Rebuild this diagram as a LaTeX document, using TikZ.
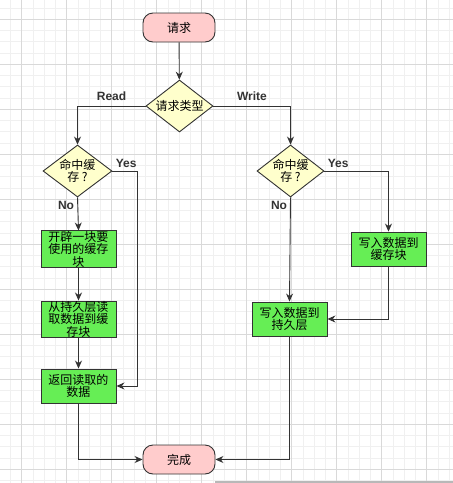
\documentclass[tikz,border=0pt]{standalone}
\usepackage{fontspec}
\setmainfont{Liberation Sans}
\newfontfamily\cjk{Noto Sans CJK SC}
\usepackage{xcolor}
\usetikzlibrary{positioning, shapes.geometric, arrows.meta}

\definecolor{lineg}{HTML}{333333}
\definecolor{termfill}{HTML}{FFCCCC}
\definecolor{decfill}{HTML}{FFFFCC}
\definecolor{procfill}{HTML}{66EE55}

\begin{document}
\begin{tikzpicture}[
    x=1pt, y=-1pt,
    font=\cjk\fontsize{12}{12.5}\selectfont,
    term/.style={draw=lineg, fill=termfill, rounded corners=10pt, line width=0.9pt,
                 minimum width=72pt, minimum height=29pt, inner sep=0pt},
    dec/.style={draw=lineg, fill=decfill, diamond, line width=0.9pt, inner sep=0pt},
    proc/.style={draw=lineg, fill=procfill, line width=0.9pt, align=center,
                 minimum width=75pt, minimum height=34pt, inner sep=0pt},
    arr/.style={-{Stealth[length=8pt, width=7pt]}, draw=lineg, line width=0.9pt},
    lbl/.style={font=\bfseries\fontsize{12}{12}\selectfont, text=lineg, inner sep=3pt},
    gminor/.style={draw=black!6, line width=0.5pt},
    gmajor/.style={draw=black!15, line width=0.7pt},
  ]

  % -- canvas and grid
  \useasboundingbox (0,0) rectangle (453,483);
  \fill[white] (0,0) rectangle (453,483);
  \foreach \k in {-1,...,38} \draw[gminor] ({21.7+11.25*\k},0) -- ({21.7+11.25*\k},483);
  \foreach \k in {-1,...,41} \draw[gminor] (0,{19+11.25*\k}) -- (453,{19+11.25*\k});
  \foreach \k in {0,...,9} \draw[gmajor] ({21.7+45*\k},0) -- ({21.7+45*\k},483);
  \foreach \k in {0,...,10} \draw[gmajor] (0,{19+45*\k}) -- (453,{19+45*\k});
  \fill[black!28] (215,481) rectangle (453,483);

  % -- terminals
  \node[term] (req) at (179,27.5) {请求};
  \node[term] (done) at (179,459.5) {完成};

  % -- decisions
  \node[dec, minimum width=67pt, minimum height=52pt,
        label={center:请求类型}] (kind) at (179.5,106) {};
  \node[dec, minimum width=69pt, minimum height=52pt,
        label={[align=center]center:命中缓\\存 ?}] (hitL) at (77.5,171) {};
  \node[dec, minimum width=67pt, minimum height=52pt,
        label={[align=center]center:命中缓\\存 ?}] (hitR) at (290.5,171) {};

  % -- read side
  \node[proc] (alloc) at (78.5,249) {开辟一块要\\使用的缓存\\块};
  \node[proc] (load) at (78.5,319) {从持久层读\\取数据到缓\\存块};
  \node[proc] (ret) at (78.5,386) {返回读取的\\数据};

  % -- write side
  \node[proc] (wcache) at (388.5,249) {写入数据到\\缓存块};
  \node[proc] (wstore) at (289.5,319) {写入数据到\\持久层};

  % -- connectors
  \draw[arr] (req) -- (kind);
  \draw[arr] (kind.west) -| node[lbl, pos=0.25, above, yshift=2pt] {Read} (hitL.north);
  \draw[arr] (kind.east) -| node[lbl, pos=0.25, above, yshift=2pt] {Write} (hitR.north);

  \draw[arr] (hitL.east) -- ++(25,0) node[lbl, pos=0, above right] {Yes} |- (ret.east);
  \draw[arr] (hitL.south) -- node[lbl, pos=0, below left] {No} (alloc.north);
  \draw[arr] (alloc) -- (load);
  \draw[arr] (load) -- (ret);
  \draw[arr] (ret.south) |- (done.west);

  \draw[arr] (hitR.east) -| node[lbl, pos=0, above right] {Yes} (wcache.north);
  \draw[arr] (hitR.south) -- node[lbl, pos=0, below left] {No} (wstore.north);
  \draw[arr] (wcache.south) |- (wstore.east);
  \draw[arr] (wstore.south) |- (done.east);

\end{tikzpicture}
\end{document}
